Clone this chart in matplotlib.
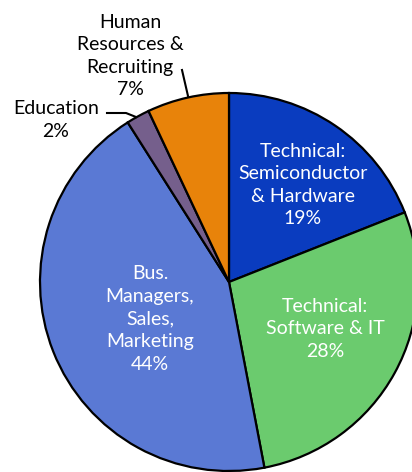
import matplotlib
matplotlib.use("Agg")
import matplotlib.pyplot as plt

# --- DATA ---
categories = ["Technical:\nSemiconductor\n& Hardware", "Technical:\nSoftware & IT",
              "Bus.\nManagers,\nSales,\nMarketing", "Education", "Human\nResources &\nRecruiting"]
shares = [19, 28, 44, 2, 7]
colors = ["#0a3cbf", "#6bcb6e", "#5a79d4", "#755f8c", "#e8830a"]

W, H = 412, 472
plt.rcParams['font.family'] = ['Lato', 'DejaVu Sans']

fig = plt.figure(figsize=(W / 100, H / 100), dpi=100)
ax = fig.add_axes([0, 0, 1, 1])

cx, cy, r = 229, H - 282, 189
ax.pie(shares, colors=colors, startangle=90, counterclock=False,
       center=(cx, cy), radius=r, frame=True,
       wedgeprops=dict(edgecolor='black', linewidth=1.6))
ax.set_xlim(0, W)
ax.set_ylim(0, H)
ax.axis('off')

fs = 14
lsp = 1.4
# labels inside the slices (white)
ax.text(303, H - 185, f"{categories[0]}\n{shares[0]}%", color='white', fontsize=fs,
        ha='center', va='center', linespacing=lsp)
ax.text(325, H - 329, f"{categories[1]}\n{shares[1]}%", color='white', fontsize=fs,
        ha='center', va='center', linespacing=lsp)
ax.text(150, H - 319, f"{categories[2]}\n{shares[2]}%", color='white', fontsize=fs,
        ha='center', va='center', linespacing=lsp)

# outside labels with leader lines
ax.text(56, H - 120, f"{categories[3]}\n{shares[3]}%", color='black', fontsize=fs,
        ha='center', va='center', linespacing=lsp)
ax.plot([107, 126, 136], [H - 113, H - 113, H - 117], color='black', lw=1.5)
ax.text(130, H - 56, f"{categories[4]}\n{shares[4]}%", color='black', fontsize=fs,
        ha='center', va='center', linespacing=lsp)
ax.plot([182, 188], [H - 70, H - 96], color='black', lw=1.5)

fig.savefig("out.png", dpi=100)
